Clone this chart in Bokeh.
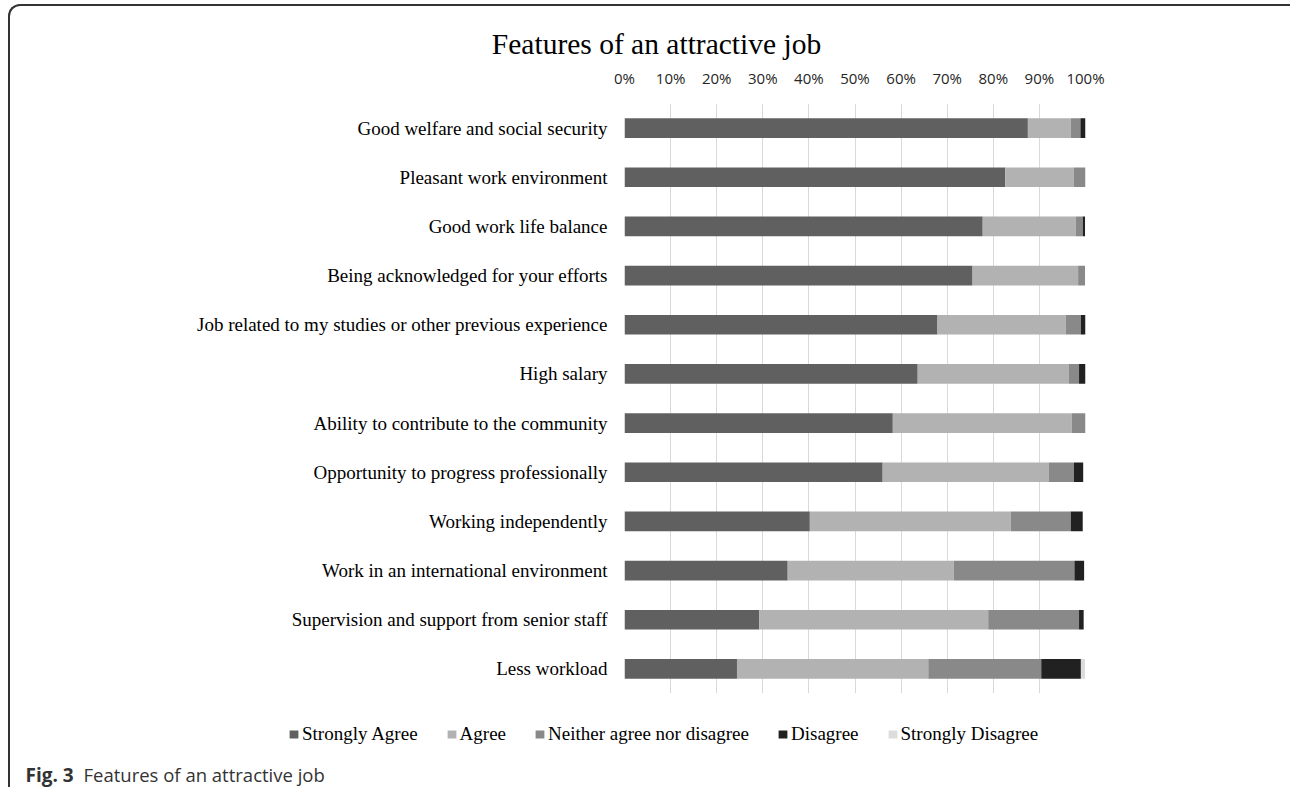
from bokeh.plotting import figure
from bokeh.models import (ColumnDataSource, FactorRange, FixedTicker, Legend, LegendItem,
                          Label, InlineStyleSheet, Range1d)
from bokeh.embed import file_html
from bokeh.resources import INLINE

categories = [
    "Good welfare and social security",
    "Pleasant work environment",
    "Good work life balance",
    "Being acknowledged for your efforts",
    "Job related to my studies or other previous experience",
    "High salary",
    "Ability to contribute to the community",
    "Opportunity to progress professionally",
    "Working independently",
    "Work in an international environment",
    "Supervision and support from senior staff",
    "Less workload",
]
strongly_agree = [87.5, 82.6, 77.7, 75.5, 67.9, 63.6, 58.2, 56.0, 40.2, 35.4, 29.2, 24.4]
agree = [9.3, 14.9, 20.2, 22.9, 27.8, 32.8, 38.8, 36.0, 43.6, 36.0, 49.7, 41.5]
neither = [2.1, 2.5, 1.5, 1.5, 3.3, 2.2, 3.0, 5.5, 13.0, 26.2, 19.7, 24.5]
disagree = [1.1, 0.0, 0.5, 0.0, 1.0, 1.4, 0.0, 2.0, 2.6, 2.1, 1.0, 8.6]
strongly_disagree = [0.0, 0.0, 0.0, 0.0, 0.0, 0.0, 0.0, 0.0, 0.0, 0.0, 0.0, 0.9]

series_names = ["Strongly Agree", "Agree", "Neither agree nor disagree", "Disagree", "Strongly Disagree"]
series_keys = ["sa", "a", "n", "d", "sd"]
colors = ["#606060", "#b2b2b2", "#898989", "#212121", "#dcdcdc"]
tick_values = [0, 10, 20, 30, 40, 50, 60, 70, 80, 90, 100]
tick_labels = ["0%", "10%", "20%", "30%", "40%", "50%", "60%", "70%", "80%", "90%", "100%"]

title_text = "Features of an attractive job"
caption_bold = "Fig. 3"
caption_text = "Features of an attractive job"

source = ColumnDataSource(dict(cat=categories, sa=strongly_agree, a=agree, n=neither,
                               d=disagree, sd=strongly_disagree))

W = 1290
H_MAIN = 700
H_FOOT = 87

# ---------------- main chart ----------------
p = figure(width=W, height=H_MAIN, output_backend="svg", toolbar_location=None,
           y_range=FactorRange(*list(reversed(categories))), x_range=(0, 100),
           x_axis_location="above", min_border_left=624, min_border_right=205,
           min_border_top=103, min_border_bottom=7, outline_line_color=None,
           border_fill_color=None)

renderers = p.hbar_stack(series_keys, y="cat", height=0.4, color=colors, line_color=None,
                         source=source)

xa = p.xaxis[0]
xa.ticker = FixedTicker(ticks=tick_values)
xa.major_label_overrides = {v: t for v, t in zip(tick_values, tick_labels)}
xa.axis_line_color = None
xa.major_tick_line_color = None
xa.major_tick_out = 0
xa.major_tick_in = 0
xa.minor_tick_line_color = None
xa.major_label_standoff = 16
xa.major_label_text_font = "Open Sans"
xa.major_label_text_font_size = "15px"
xa.major_label_text_color = "#262626"

ya = p.yaxis[0]
ya.axis_line_color = None
ya.major_tick_line_color = None
ya.major_tick_out = 0
ya.major_tick_in = 0
ya.minor_tick_line_color = None
ya.major_label_standoff = 17
ya.major_label_text_font = "Liberation Serif"
ya.major_label_text_font_size = "19px"
ya.major_label_text_color = "#000000"

p.xgrid.grid_line_color = "#d9d9d9"
p.xgrid.grid_line_width = 1
p.ygrid.grid_line_color = None

p.add_layout(Label(x=656, y=43, x_units="canvas", y_units="canvas", text=title_text,
                   text_align="center", text_baseline="alphabetic",
                   text_font="Liberation Serif", text_font_size="29.5px",
                   text_color="#000000"), "above")

p.stylesheets = [InlineStyleSheet(css="""
:host { position: relative; }
:host::after { content: ""; position: absolute; left: 8px; top: 4px; right: 0; bottom: 0;
  border-top: 2px solid #333; border-left: 2px solid #333; border-top-left-radius: 12px;
  pointer-events: none; }
""")]

# ---------------- footer: legend + caption ----------------
f = figure(width=W, height=H_FOOT, output_backend="svg", toolbar_location=None,
           x_range=Range1d(0, W), y_range=Range1d(H_MAIN + H_FOOT, H_MAIN),
           x_axis_type=None, y_axis_type=None,
           min_border_left=0, min_border_right=0, min_border_top=0, min_border_bottom=0,
           outline_line_color=None, border_fill_color=None, background_fill_color=None)
f.grid.visible = False

# legend proxies: zero-size bars lying outside the footer's visible range
swatches = [f.hbar(y=[0], left=[0], right=[0], height=0, color=c, line_color=None)
            for c in colors]
items = [LegendItem(label=n, renderers=[r]) for n, r in zip(series_names, swatches)]
legend = Legend(items=items, orientation="horizontal", location=(288, 42),
                glyph_width=11, glyph_height=10, label_standoff=3, spacing=28,
                padding=0, margin=0, border_line_color=None, background_fill_alpha=0,
                label_text_font="Liberation Serif", label_text_font_size="19px",
                label_text_color="#000000")
f.add_layout(legend, "center")

f.add_layout(Label(x=25, y=774, text=caption_bold, text_align="left",
                   text_baseline="alphabetic", text_font="Open Sans",
                   text_font_size="19px", text_font_style="bold", text_color="#333333"))
f.add_layout(Label(x=83, y=774, text=caption_text, text_align="left",
                   text_baseline="alphabetic", text_font="Open Sans",
                   text_font_size="18.5px", text_color="#333333"))

f.stylesheets = [InlineStyleSheet(css="""
:host { position: relative; }
:host::after { content: ""; position: absolute; left: 8px; top: 0; bottom: 0; width: 0;
  border-left: 2px solid #333; pointer-events: none; }
""")]

open("out.html", "w").write(file_html([p, f], INLINE))
